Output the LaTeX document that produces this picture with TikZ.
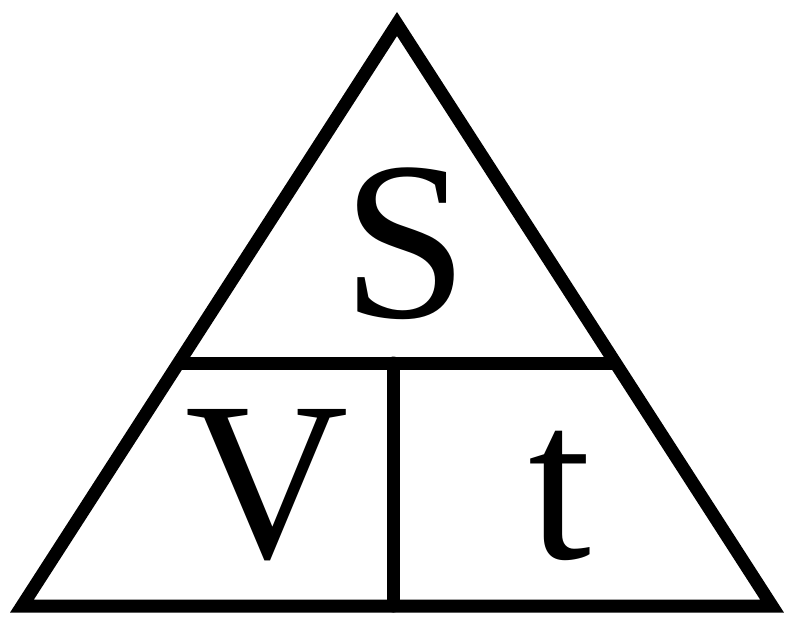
\documentclass[tikz,border=0pt]{standalone}
\usepackage{fontspec}
\setmainfont{Liberation Serif}
\usetikzlibrary{positioning,calc}

\begin{document}
\begin{tikzpicture}[
  x=1bp, y=-1bp,
  edge/.style={draw, line width=13bp, line join=miter},
  letter/.style={anchor=base, inner sep=0pt,
                 font=\fontsize{227}{227}\selectfont}
]
\useasboundingbox (0,0) rectangle (792,624);
\coordinate (apex) at (397,24);
\coordinate (bl) at (22,606);
\coordinate (br) at (772,606);
\coordinate (ml) at ($(apex)!0.5825!(bl)$);
\coordinate (mr) at ($(apex)!0.5825!(br)$);
\coordinate (mtop) at (393,363);
\coordinate (mbot) at (393,606);

\draw[edge] (apex) -- (bl) -- (br) -- cycle;
\draw[edge] (ml) -- (mr);
\draw[edge, line cap=round] (mtop) -- (mbot);

\node[letter] (dist) at (405,317) {S};
\node[letter] (speed) at (267,557) {V};
\node[letter] (time) at (560,558) {t};
\end{tikzpicture}
\end{document}
